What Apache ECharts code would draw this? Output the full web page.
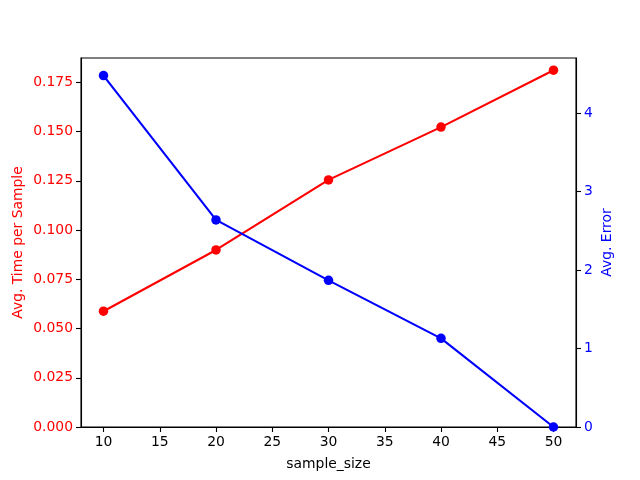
<!DOCTYPE html>
<html>
<head>
<meta charset="utf-8">
<script src="https://cdn.jsdelivr.net/npm/echarts@6/dist/echarts.min.js"></script>
<style>html,body{margin:0;padding:0;background:#fff}#c{width:640px;height:480px}</style>
</head>
<body>
<div id="c"></div>
<script>
var sampleSizes = [10, 20, 30, 40, 50];
var avgTime = [0.0588, 0.0899, 0.1255, 0.1523, 0.1812];
var avgError = [4.48, 2.64, 1.87, 1.13, 0.0];
var xTicks = [10, 15, 20, 25, 30, 35, 40, 45, 50];
var leftTicks = [0, 0.025, 0.05, 0.075, 0.1, 0.125, 0.15, 0.175];
var rightTicks = [0, 1, 2, 3, 4];

var FONT = 'DejaVu Sans';
var FS = 13.9;

var chart = echarts.init(document.getElementById('c'), null, {renderer: 'canvas'});
chart.setOption({
  animation: false,
  backgroundColor: '#fff',
  textStyle: {fontFamily: FONT},
  grid: {left: 81, right: 64, top: 58, bottom: 53, show: true, borderColor: '#000', borderWidth: 1.1, backgroundColor: 'transparent'},
  xAxis: {
    type: 'value', min: 8, max: 52,
    name: 'sample_size', nameLocation: 'middle', nameGap: 30,
    nameTextStyle: {color: '#000', fontSize: FS, fontFamily: FONT},
    axisLine: {show: true, lineStyle: {color: '#000', width: 1.1}},
    axisTick: {show: true, length: 5, lineStyle: {color: '#000', width: 1.1}, customValues: xTicks},
    axisLabel: {color: '#000', fontSize: FS, fontFamily: FONT, margin: 8, customValues: xTicks},
    splitLine: {show: false}
  },
  yAxis: [{
    type: 'value', min: 0, max: 0.1874, position: 'left',
    name: 'Avg. Time per Sample', nameLocation: 'middle', nameGap: 56, nameMoveOverlap: false,
    nameTextStyle: {color: '#ff0000', fontSize: FS, fontFamily: FONT},
    axisLine: {show: true, lineStyle: {color: '#000', width: 1.1}},
    axisTick: {show: true, length: 5, lineStyle: {color: '#000', width: 1.1}, customValues: leftTicks},
    axisLabel: {color: '#ff0000', fontSize: FS, fontFamily: FONT, margin: 8, customValues: leftTicks,
      formatter: function (v) { return v.toFixed(3); }},
    splitLine: {show: false}
  }, {
    type: 'value', min: 0, max: 4.704, position: 'right',
    name: 'Avg. Error', nameLocation: 'middle', nameGap: 24, nameMoveOverlap: false,
    nameRotate: 90,
    nameTextStyle: {color: '#0000ff', fontSize: FS, fontFamily: FONT},
    axisLine: {show: true, lineStyle: {color: '#000', width: 1.1}},
    axisTick: {show: true, length: 5, lineStyle: {color: '#000', width: 1.1}, customValues: rightTicks},
    axisLabel: {color: '#0000ff', fontSize: FS, fontFamily: FONT, margin: 8, customValues: rightTicks},
    splitLine: {show: false}
  }],
  series: [{
    type: 'line', yAxisIndex: 0,
    data: sampleSizes.map(function (x, i) { return [x, avgTime[i]]; }),
    color: '#ff0000', lineStyle: {width: 2.1, color: '#ff0000'},
    symbol: 'circle', symbolSize: 9.5, showSymbol: true,
    itemStyle: {color: '#ff0000'}, clip: false
  }, {
    type: 'line', yAxisIndex: 1,
    data: sampleSizes.map(function (x, i) { return [x, avgError[i]]; }),
    color: '#0000ff', lineStyle: {width: 2.1, color: '#0000ff'},
    symbol: 'circle', symbolSize: 9.5, showSymbol: true,
    itemStyle: {color: '#0000ff'}, clip: false
  }]
});
</script>
</body>
</html>
